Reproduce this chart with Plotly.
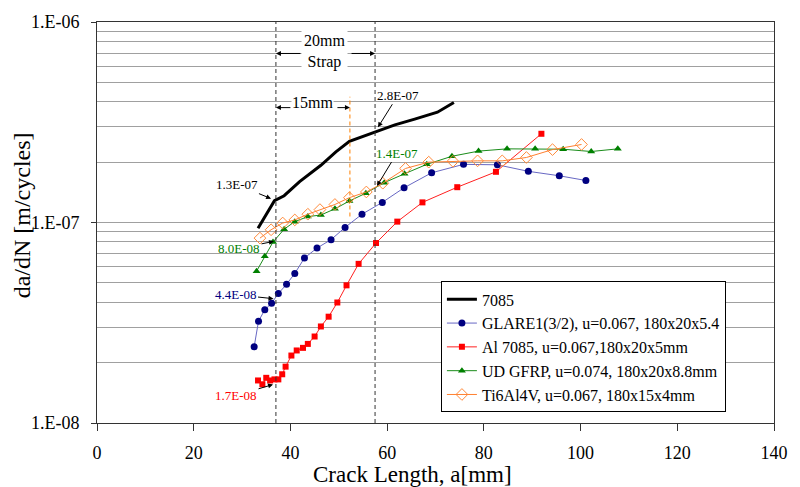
import plotly.graph_objects as go

FONT = "Liberation Serif, Times New Roman, serif"

# ---------------- data ----------------
a_7085 = [33.3, 36.7, 38.7, 41.9, 46.3, 49.4, 52.2, 57.7, 61.6, 65.7, 70.4, 73.8]
r_7085 = [9.37e-8, 1.285e-7, 1.36e-7, 1.60e-7, 1.93e-7, 2.25e-7, 2.54e-7, 2.84e-7,
          3.07e-7, 3.28e-7, 3.55e-7, 3.97e-7]

a_glare = [32.5, 33.4, 34.7, 36.1, 37.5, 39.2, 40.9, 42.9, 45.5, 48.4, 51.3, 54.8,
           59.0, 63.5, 69.2, 75.8, 82.8, 89.2, 95.6, 101.1]
r_glare = [2.40e-8, 3.22e-8, 3.67e-8, 3.96e-8, 4.42e-8, 4.92e-8, 5.57e-8, 6.65e-8,
           7.46e-8, 8.21e-8, 9.45e-8, 1.10e-7, 1.26e-7, 1.49e-7, 1.77e-7, 1.95e-7,
           1.94e-7, 1.80e-7, 1.71e-7, 1.62e-7]

a_al = [33.3, 34.2, 35.0, 35.8, 36.7, 37.5, 38.3, 39.0, 40.2, 41.3, 42.6, 43.6,
        45.0, 46.3, 47.9, 49.7, 51.6, 54.1, 57.7, 62.1, 67.3, 74.5, 82.5, 91.9]
r_al = [1.63e-8, 1.56e-8, 1.68e-8, 1.63e-8, 1.65e-8, 1.65e-8, 1.75e-8, 1.91e-8,
        2.17e-8, 2.30e-8, 2.37e-8, 2.48e-8, 2.70e-8, 3.03e-8, 3.39e-8, 3.99e-8,
        4.86e-8, 6.22e-8, 7.90e-8, 1.01e-7, 1.26e-7, 1.50e-7, 1.79e-7, 2.77e-7]

a_gfrp = [33.0, 34.7, 36.4, 38.7, 40.9, 43.6, 46.3, 49.2, 52.2, 55.6, 59.4, 63.6,
          68.2, 73.4, 78.9, 84.8, 90.6, 96.4, 102.2, 107.7]
r_gfrp = [5.72e-8, 6.79e-8, 7.99e-8, 9.26e-8, 1.01e-7, 1.07e-7, 1.09e-7, 1.17e-7,
          1.28e-7, 1.40e-7, 1.58e-7, 1.75e-7, 1.95e-7, 2.14e-7, 2.27e-7, 2.33e-7,
          2.33e-7, 2.32e-7, 2.26e-7, 2.33e-7]

a_ti = [33.7, 36.0, 38.4, 40.9, 43.6, 46.1, 49.2, 52.2, 55.7, 59.1, 63.8, 68.6,
        73.6, 78.7, 83.8, 88.8, 94.2, 100.2]
r_ti = [8.36e-8, 9.20e-8, 9.94e-8, 1.03e-7, 1.10e-7, 1.16e-7, 1.23e-7, 1.33e-7,
        1.42e-7, 1.57e-7, 1.86e-7, 2.00e-7, 2.02e-7, 2.03e-7, 2.03e-7, 2.11e-7,
        2.31e-7, 2.45e-7]

names = ["7085", "GLARE1(3/2), u=0.067, 180x20x5.4", "Al 7085, u=0.067,180x20x5mm",
         "UD GFRP, u=0.074, 180x20x8.8mm", "Ti6Al4V, u=0.067, 180x15x4mm"]

x_ticks = [0, 20, 40, 60, 80, 100, 120, 140]
y_ticks = [1e-8, 1e-7, 1e-6]
y_ticktext = ["1.E-08", "1.E-07", "1.E-06"]
y_minor = [m * 10.0 ** e for e in (-8, -7) for m in range(2, 10)]

# strap boundary lines (crack length, mm)
strap_lines = [37.0, 57.5]
strap15_line = 52.3

# value callouts: text, tip crack length, tip log10 rate, colour, offsets
callouts = [
    ("1.3E-07", 36.0, -6.881, "black", -34, -14),
    ("2.8E-07", 58.1, -6.525, "black", 20, -32),
    ("1.4E-07", 57.9, -6.818, "#008000", 20, -33),
    ("8.0E-08", 36.6, -7.094, "#008000", -35, 7),
    ("4.4E-08", 36.5, -7.380, "#000080", -38, -4),
    ("1.7E-08", 36.4, -7.808, "#ff0000", -37, 11),
]

fig = go.Figure()

fig.add_trace(go.Scatter(x=a_7085, y=r_7085, mode="lines", name=names[0],
                         line=dict(color="black", width=3)))
fig.add_trace(go.Scatter(x=a_glare, y=r_glare, mode="lines+markers", name=names[1],
                         line=dict(color="#6868c4", width=1),
                         marker=dict(symbol="circle", size=7, color="#000080")))
fig.add_trace(go.Scatter(x=a_al, y=r_al, mode="lines+markers", name=names[2],
                         line=dict(color="#ff2020", width=1),
                         marker=dict(symbol="square", size=6, color="#ff0000")))
fig.add_trace(go.Scatter(x=a_gfrp, y=r_gfrp, mode="lines+markers", name=names[3],
                         line=dict(color="#1a8c1a", width=1),
                         marker=dict(symbol="triangle-up", size=7, color="#008000")))
fig.add_trace(go.Scatter(x=a_ti, y=r_ti, mode="lines+markers", name=names[4],
                         line=dict(color="#ff8030", width=1),
                         marker=dict(symbol="diamond-open", size=9, color="#ff8a3a",
                                     line=dict(width=1, color="#ff8a3a"))))

shapes = []
for xv in strap_lines:
    shapes.append(dict(type="line", xref="x", yref="paper", x0=xv, x1=xv, y0=0, y1=1,
                       line=dict(color="#333333", width=1, dash="4px,3px")))
shapes.append(dict(type="line", xref="x", yref="paper", x0=strap15_line, x1=strap15_line,
                   y0=0.515, y1=0.8136, line=dict(color="#ff8000", width=1, dash="4px,3px")))

ann = []
for txt, xv, ly, col, ax, ay in callouts:
    ann.append(dict(x=xv, y=ly, xref="x", yref="y", text=txt, showarrow=True,
                    ax=ax, ay=ay, arrowhead=2, arrowsize=1, arrowwidth=1,
                    arrowcolor="black", font=dict(family=FONT, size=13, color=col)))

# strap width arrows
ann.append(dict(x=strap_lines[0], y=-6.157, xref="x", yref="y", text="", showarrow=True,
                ax=26, ay=0, arrowhead=2, arrowsize=1, arrowwidth=1, arrowcolor="black"))
ann.append(dict(x=strap_lines[1], y=-6.157, xref="x", yref="y", text="", showarrow=True,
                ax=-25, ay=0, arrowhead=2, arrowsize=1, arrowwidth=1, arrowcolor="black"))
ann.append(dict(x=strap_lines[0], y=-6.427, xref="x", yref="y", text="", showarrow=True,
                ax=16, ay=0, arrowhead=2, arrowsize=1, arrowwidth=1, arrowcolor="black"))
ann.append(dict(x=strap15_line, y=-6.427, xref="x", yref="y", text="", showarrow=True,
                ax=-14, ay=0, arrowhead=2, arrowsize=1, arrowwidth=1, arrowcolor="black"))
ann.append(dict(x=46.95, y=-6.149, xref="x", yref="y", text="20mm<br>Strap", showarrow=False,
                bgcolor="white", borderpad=2, font=dict(family=FONT, size=16, color="black")))
ann.append(dict(x=44.5, y=-6.401, xref="x", yref="y", text="15mm", showarrow=False,
                bgcolor="white", borderpad=0, font=dict(family=FONT, size=16, color="black")))

# axis titles
ann.append(dict(x=0.4666, y=-0.1287, xref="paper", yref="paper", text="Crack Length, a[mm]",
                showarrow=False, xanchor="center", yanchor="middle",
                font=dict(family=FONT, size=23, color="black")))
ann.append(dict(x=-0.1103, y=0.5186, xref="paper", yref="paper", text="da/dN [m/cycles]",
                showarrow=False, xanchor="center", yanchor="middle", textangle=-90,
                font=dict(family=FONT, size=24, color="black")))

fig.update_layout(
    width=800, height=487,
    margin=dict(l=97, r=14, t=19, b=64),
    paper_bgcolor="white", plot_bgcolor="white",
    font=dict(family=FONT, size=18, color="black"),
    shapes=shapes, annotations=ann,
    legend=dict(x=0.508, y=0.0265, xanchor="left", yanchor="bottom",
                bgcolor="white", bordercolor="black", borderwidth=1,
                font=dict(family=FONT, size=16, color="black"), tracegroupgap=0),
    xaxis=dict(range=[0, 140], tickvals=x_ticks, ticks="outside", ticklen=7,
               tickcolor="#333333", showline=True, linecolor="#333333", linewidth=1,
               mirror=True, showgrid=False, zeroline=False, ticklabelstandoff=6,
               tickfont=dict(family=FONT, size=18, color="black")),
    yaxis=dict(type="log", range=[-8, -6], tickvals=y_ticks, ticktext=y_ticktext,
               ticks="outside", ticklen=5, tickcolor="#333333", showline=True,
               linecolor="#333333", linewidth=1, mirror=True,
               showgrid=True, gridcolor="#a0a0a0", gridwidth=1, zeroline=False,
               ticklabelstandoff=8,
               tickfont=dict(family=FONT, size=18, color="black"),
               minor=dict(tickvals=y_minor, showgrid=True, gridcolor="#a0a0a0",
                          gridwidth=1, ticks="")),
)

fig.write_html("out.html")
